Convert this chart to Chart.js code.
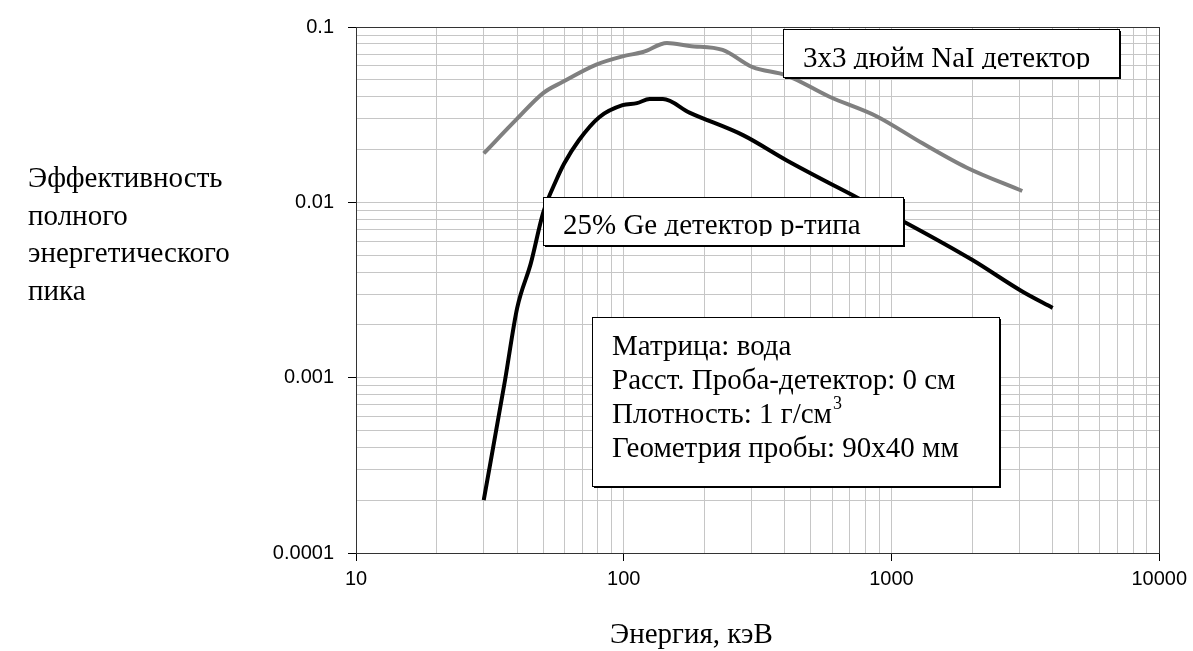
<!DOCTYPE html>
<html lang="ru">
<head>
<meta charset="utf-8">
<title>Эффективность полного энергетического пика</title>
<script src="https://cdn.jsdelivr.net/npm/chart.js@4.4.1/dist/chart.umd.min.js"></script>
<style>
    html, body { margin: 0; padding: 0; background: #fff; }
    #grafico { display: block; }
</style>
</head>
<body>
<canvas id="grafico" width="1193" height="651"></canvas>
<script>
// Энергия (кэВ) и эффективность
const energiaNaI = [30, 40, 50, 59, 79, 99, 118, 145, 176, 234, 303, 405, 587, 879, 1306, 1905, 3080];
const eficienciaNaI = [0.019, 0.030, 0.042, 0.0485, 0.061, 0.068, 0.072, 0.081, 0.078, 0.074, 0.059, 0.053, 0.040, 0.031, 0.0217, 0.0158, 0.0116];

const energiaGe = [30, 36, 40, 45, 50, 56, 60, 68, 81, 99, 112, 125, 140, 176, 280, 405, 740, 1140, 2000, 3080, 4000];
const eficienciaGe = [0.0002, 0.00096, 0.0025, 0.0045, 0.0087, 0.0134, 0.0167, 0.0226, 0.0306, 0.0358, 0.0368, 0.0388, 0.0388, 0.0325, 0.0241, 0.0174, 0.0107, 0.0076, 0.0047, 0.0031, 0.0025];

const xTickLabels = ['10', '100', '1000', '10000'];
const yTickLabels = ['0.0001', '0.001', '0.01', '0.1'];

const tituloY = ['Эффективность', 'полного', 'энергетического', 'пика'];
const tituloX = 'Энергия, кэВ';
const rotuloNaI = '3x3 дюйм NaI детектор';
const rotuloGe = '25% Ge детектор p-типа';
const linhasCaixa = ['Матрица: вода', 'Расст. Проба-детектор: 0 см', 'Плотность: 1 г/см', 'Геометрия пробы: 90x40 мм'];

(function () {
    const canvas = document.getElementById('grafico');
    if (!canvas || typeof Chart === 'undefined') {
        return;
    }

    const SERIF = '"Liberation Serif", "Times New Roman", serif';

    function gradeLog(rotulos) {
        const valores = [];
        for (let i = 0; i < rotulos.length - 1; i++) {
            const base = Number(rotulos[i]);
            for (let k = 1; k <= 9; k++) {
                valores.push(base * k);
            }
        }
        valores.push(Number(rotulos[rotulos.length - 1]));
        return valores;
    }

    function rotuloDe(valor, rotulos) {
        const achado = rotulos.find(function (r) {
            return Math.abs(Number(r) - valor) < valor * 1e-6;
        });
        return achado || '';
    }

    function pontos(xs, ys) {
        return xs.map(function (x, i) {
            return { x: x, y: ys[i] };
        });
    }

    const gradeX = gradeLog(xTickLabels);
    const gradeY = gradeLog(yTickLabels);

    function caixa(ctx, x, y, w, h) {
        ctx.fillStyle = '#000';
        ctx.fillRect(x + 2, y + 2, w, h);
        ctx.fillStyle = '#fff';
        ctx.fillRect(x, y, w, h);
        ctx.strokeStyle = '#000';
        ctx.lineWidth = 1;
        ctx.strokeRect(x + 0.5, y + 0.5, w, h);
    }

    function textoCortado(ctx, texto, x, y, caixaRect) {
        ctx.save();
        ctx.beginPath();
        ctx.rect(caixaRect[0], caixaRect[1], caixaRect[2], y + 2 - caixaRect[1]);
        ctx.clip();
        ctx.fillText(texto, x, y);
        ctx.restore();
    }

    const anotacoes = {
        id: 'anotacoes',
        afterDatasetsDraw: function (chart) {
            const ctx = chart.ctx;
            const area = chart.chartArea;

            ctx.save();
            ctx.strokeStyle = '#333';
            ctx.lineWidth = 1;
            ctx.strokeRect(Math.round(area.left) + 0.5, Math.round(area.top) + 0.5,
                Math.round(area.right - area.left), Math.round(area.bottom - area.top));

            ctx.font = '29px ' + SERIF;
            ctx.textBaseline = 'alphabetic';
            ctx.textAlign = 'left';

            caixa(ctx, 783, 29, 336, 48);
            ctx.fillStyle = '#000';
            textoCortado(ctx, rotuloNaI, 803, 67, [783, 29, 336]);

            caixa(ctx, 543, 197, 360, 48);
            ctx.fillStyle = '#000';
            textoCortado(ctx, rotuloGe, 563, 234, [543, 197, 360]);

            caixa(ctx, 592, 317, 407, 169);
            ctx.fillStyle = '#000';
            linhasCaixa.forEach(function (linha, i) {
                ctx.fillText(linha, 612, 355 + i * 34);
            });
            const larguraDens = ctx.measureText(linhasCaixa[2]).width;
            ctx.font = '18px ' + SERIF;
            ctx.fillText('3', 612 + larguraDens + 1, 355 + 2 * 34 - 14);

            ctx.font = '29px ' + SERIF;
            tituloY.forEach(function (linha, i) {
                ctx.fillText(linha, 28, 187 + i * 37.5);
            });
            ctx.fillText(tituloX, 610, 643);
            ctx.restore();
        }
    };

    new Chart(canvas, {
        type: 'line',
        data: {
            datasets: [{
                label: '3x3 NaI',
                data: pontos(energiaNaI, eficienciaNaI),
                borderColor: '#808080',
                borderWidth: 4,
                pointRadius: 0,
                cubicInterpolationMode: 'monotone',
                borderJoinStyle: 'round',
                fill: false
            }, {
                label: '25% Ge',
                data: pontos(energiaGe, eficienciaGe),
                borderColor: '#000',
                borderWidth: 4,
                pointRadius: 0,
                cubicInterpolationMode: 'monotone',
                borderJoinStyle: 'round',
                fill: false
            }]
        },
        options: {
            responsive: false,
            animation: false,
            layout: {
                padding: { left: 0, top: 27, right: 33, bottom: 0 }
            },
            scales: {
                x: {
                    type: 'logarithmic',
                    min: 10,
                    max: 10000,
                    afterBuildTicks: function (escala) {
                        escala.ticks = gradeX.map(function (v) { return { value: v }; });
                    },
                    afterFit: function (escala) {
                        escala.height = 98;
                    },
                    grid: {
                        color: '#c6c6c6',
                        lineWidth: 1,
                        tickLength: 8,
                        tickColor: function (c) {
                            return c.tick && rotuloDe(c.tick.value, xTickLabels) ? '#000' : 'rgba(0,0,0,0)';
                        }
                    },
                    border: { color: '#333', width: 1 },
                    ticks: {
                        autoSkip: false,
                        maxRotation: 0,
                        minRotation: 0,
                        padding: 6,
                        color: '#000',
                        font: { family: '"Liberation Sans", Arial, sans-serif', size: 20 },
                        callback: function (v) { return rotuloDe(v, xTickLabels); }
                    }
                },
                y: {
                    type: 'logarithmic',
                    min: 0.0001,
                    max: 0.1,
                    afterBuildTicks: function (escala) {
                        escala.ticks = gradeY.map(function (v) { return { value: v }; });
                    },
                    afterFit: function (escala) {
                        escala.width = 356;
                    },
                    grid: {
                        color: '#c6c6c6',
                        lineWidth: 1,
                        tickLength: 8,
                        tickColor: function (c) {
                            return c.tick && rotuloDe(c.tick.value, yTickLabels) ? '#000' : 'rgba(0,0,0,0)';
                        }
                    },
                    border: { color: '#333', width: 1 },
                    ticks: {
                        autoSkip: false,
                        padding: 14,
                        color: '#000',
                        font: { family: '"Liberation Sans", Arial, sans-serif', size: 20 },
                        callback: function (v) { return rotuloDe(v, yTickLabels); }
                    }
                }
            },
            plugins: {
                legend: { display: false },
                tooltip: { enabled: false }
            }
        },
        plugins: [anotacoes]
    });
})();
</script>
</body>
</html>
